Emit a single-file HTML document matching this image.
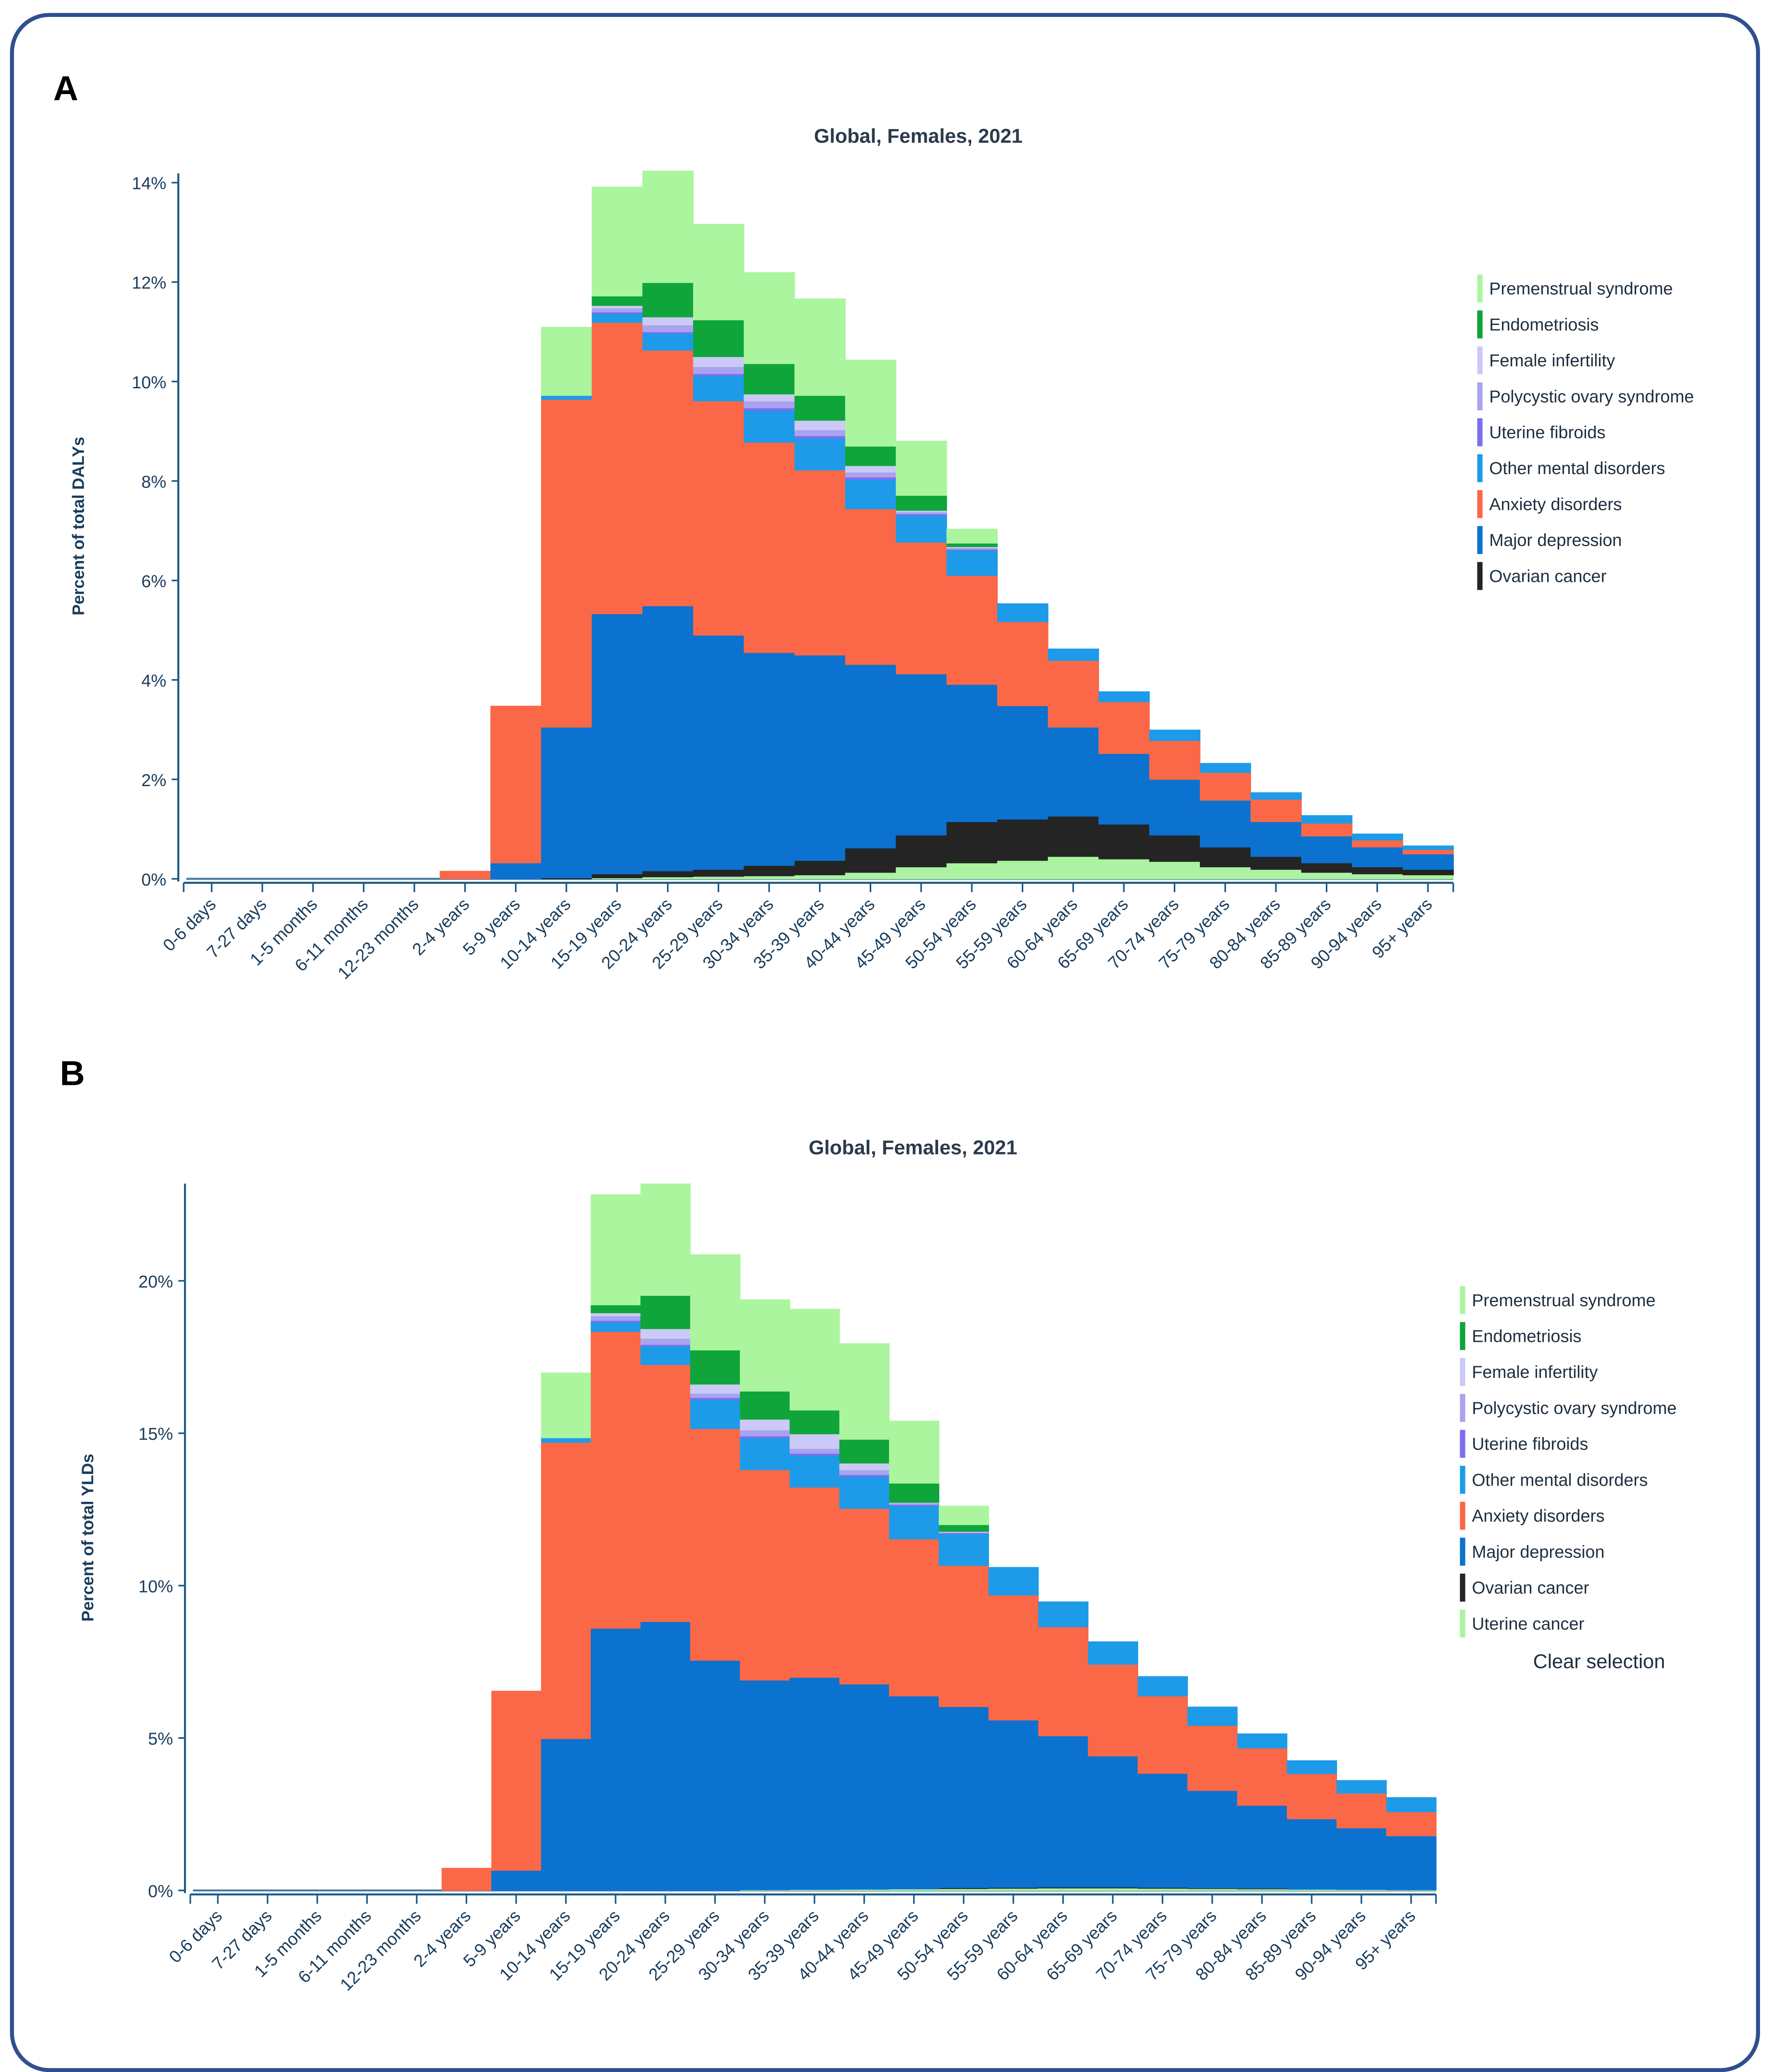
<!DOCTYPE html>
<html><head><meta charset="utf-8"><style>
html,body{margin:0;padding:0;background:#fff;width:4272px;height:5038px;overflow:hidden;}
svg{display:block;}
text{font-family:"Liberation Sans",sans-serif;}
</style></head><body>
<svg id="root" width="4272" height="5038" viewBox="0 0 1330 1568" xmlns="http://www.w3.org/2000/svg">
<rect x="9" y="11" width="1312" height="1544" rx="28" fill="#fff" stroke="#2f4f8f" stroke-width="3"/>
<text x="40" y="75" font-size="26" font-weight="bold" fill="#000">A</text>
<text x="45" y="815" font-size="26" font-weight="bold" fill="#000">B</text>
<g id="chartA"></g>
<g id="chartB"></g>
</svg>
<script>
const categories = ["0-6 days","7-27 days","1-5 months","6-11 months","12-23 months","2-4 years","5-9 years","10-14 years","15-19 years","20-24 years","25-29 years","30-34 years","35-39 years","40-44 years","45-49 years","50-54 years","55-59 years","60-64 years","65-69 years","70-74 years","75-79 years","80-84 years","85-89 years","90-94 years","95+ years"];
const seriesNames = ["Uterine cancer","Ovarian cancer","Major depression","Anxiety disorders","Other mental disorders","Uterine fibroids","Polycystic ovary syndrome","Female infertility","Endometriosis","Premenstrual syndrome"];
const seriesColors = ["#abf3a0","#242424","#0b72d0","#fb6847","#1d9be9","#7b6ff0","#a9a3f0","#cbc9f6","#0fa53a","#abf59e"];
// Chart A (DALYs %)
const aUterine    = [0,0,0,0,0,0,0,0,0.02,0.04,0.05,0.06,0.08,0.13,0.24,0.32,0.37,0.45,0.40,0.35,0.24,0.19,0.13,0.10,0.08];
const aOvarian    = [0,0,0,0,0,0,0,0.02,0.08,0.12,0.14,0.21,0.29,0.49,0.64,0.83,0.83,0.81,0.70,0.53,0.40,0.26,0.19,0.14,0.11];
const aDepression = [0,0,0,0,0,0,0.32,3.03,5.23,5.33,4.71,4.28,4.13,3.69,3.24,2.76,2.28,1.79,1.42,1.12,0.94,0.70,0.54,0.40,0.31];
const aAnxiety    = [0,0,0,0,0,0.16,3.16,6.59,5.86,5.14,4.71,4.23,3.72,3.13,2.65,2.19,1.69,1.34,1.04,0.78,0.56,0.45,0.26,0.14,0.09];
const aOther      = [0,0,0,0,0,0,0,0.08,0.18,0.34,0.51,0.64,0.64,0.59,0.54,0.51,0.37,0.24,0.21,0.22,0.19,0.14,0.16,0.13,0.08];
const aFibroids   = [0,0,0,0,0,0,0,0,0.03,0.03,0.04,0.05,0.05,0.05,0.03,0.02,0,0,0,0,0,0,0,0,0];
const aPcos       = [0,0,0,0,0,0,0,0,0.08,0.14,0.14,0.14,0.12,0.10,0.04,0.03,0,0,0,0,0,0,0,0,0];
const aInfert     = [0,0,0,0,0,0,0,0,0.05,0.16,0.20,0.14,0.19,0.13,0.03,0.02,0,0,0,0,0,0,0,0,0];
const aEndo       = [0,0,0,0,0,0,0,0,0.19,0.69,0.74,0.61,0.50,0.39,0.30,0.07,0,0,0,0,0,0,0,0,0];
const aPms        = [0,0,0,0,0,0,0,1.38,2.20,2.25,1.93,1.84,1.95,1.74,1.10,0.29,0,0,0,0,0,0,0,0,0];
const aTicks = [0,2,4,6,8,10,12,14];
// Chart B (YLDs %)
const bUterine    = [0,0,0,0,0,0,0,0,0,0,0,0.02,0.03,0.04,0.05,0.06,0.07,0.08,0.08,0.07,0.06,0.05,0.04,0.03,0.02];
const bOvarian    = [0,0,0,0,0,0,0,0,0,0,0,0,0,0,0,0.03,0.03,0.03,0.03,0.03,0.02,0.02,0,0,0];
const bDepression = [0,0,0,0,0,0,0.66,4.98,8.60,8.82,7.55,6.88,6.96,6.73,6.33,5.94,5.49,4.96,4.30,3.74,3.20,2.72,2.31,2.02,1.77];
const bAnxiety    = [0,0,0,0,0,0.74,5.89,9.72,9.74,8.43,7.60,6.90,6.24,5.76,5.15,4.63,4.10,3.58,3.01,2.54,2.13,1.88,1.48,1.14,0.79];
const bOther      = [0,0,0,0,0,0,0,0.15,0.31,0.61,0.96,1.05,1.05,1.05,1.09,1.04,0.92,0.83,0.75,0.65,0.62,0.48,0.44,0.43,0.48];
const bFibroids   = [0,0,0,0,0,0,0,0,0.05,0.05,0.06,0.06,0.06,0.06,0.04,0.03,0,0,0,0,0,0,0,0,0];
const bPcos       = [0,0,0,0,0,0,0,0,0.15,0.20,0.14,0.20,0.16,0.16,0.05,0.03,0,0,0,0,0,0,0,0,0];
const bInfert     = [0,0,0,0,0,0,0,0,0.10,0.32,0.30,0.35,0.48,0.22,0.02,0.02,0,0,0,0,0,0,0,0,0];
const bEndo       = [0,0,0,0,0,0,0,0,0.26,1.09,1.12,0.92,0.78,0.78,0.63,0.22,0,0,0,0,0,0,0,0,0];
const bPms        = [0,0,0,0,0,0,0,2.14,3.63,3.67,3.14,3.01,3.32,3.15,2.05,0.62,0,0,0,0,0,0,0,0,0];
const bTicks = [0,5,10,15,20];
const legendA = ["Premenstrual syndrome","Endometriosis","Female infertility","Polycystic ovary syndrome","Uterine fibroids","Other mental disorders","Anxiety disorders","Major depression","Ovarian cancer"];
const legendB = ["Premenstrual syndrome","Endometriosis","Female infertility","Polycystic ovary syndrome","Uterine fibroids","Other mental disorders","Anxiety disorders","Major depression","Ovarian cancer","Uterine cancer"];

const NS="http://www.w3.org/2000/svg";
function mk(tag, attrs, parent){const e=document.createElementNS(NS,tag);for(const k in attrs)e.setAttribute(k,attrs[k]);parent.appendChild(e);return e;}

function drawChart(g, cfg, series, ticks, legend){
  const n=categories.length, bw=(cfg.x1-cfg.x0)/n;
  const xOf=i=>cfg.x0+i*bw;
  const yOf=v=>cfg.y0-v*cfg.ppu;
  const title=mk('text',{x:cfg.titleX,y:cfg.titleY,'font-size':15,'font-weight':'bold','text-anchor':'middle',fill:'#2b3b4b'},g);
  title.textContent="Global, Females, 2021";
  
  
  const bl=mk('line',{x1:cfg.x0,x2:cfg.x1,y1:cfg.y0,y2:cfg.y0,stroke:'#4a7aa0','stroke-width':1.5},g);
  
  
  for(let i=0;i<n;i++){
    let cum=0;
    for(let s=0;s<series.length;s++){
      const v=series[s][i]; if(!v) continue;
      const r=mk('rect',{x:xOf(i),y:yOf(cum+v),width:bw+0.4,height:v*cfg.ppu+0.3,fill:seriesColors[s]},g);
      
      
      cum+=v;
    }
  }
  const ya=mk('line',{x1:cfg.ax,x2:cfg.ax,y1:cfg.yTop,y2:cfg.y0+2,stroke:'#1a5a86','stroke-width':1.5},g);
  
  
  ticks.forEach(t=>{
    const y=yOf(t);
    const tk=mk('line',{x1:cfg.ax-5,x2:cfg.ax,y1:y,y2:y,stroke:'#1a5a86','stroke-width':1.2},g);
    
    
    const tl=mk('text',{x:cfg.ax-9,y:y+5,'font-size':13,'text-anchor':'end',fill:'#1a3d5c'},g);
    tl.textContent=t+'%';
    
    
  });
  const yt=mk('text',{x:0,y:0,'font-size':12.5,'font-weight':'bold','text-anchor':'middle',fill:'#1a3d5c',transform:`translate(${cfg.ytx},${cfg.yty}) rotate(-90)`},g);
  yt.textContent=cfg.ytitle;
  
  
  const xa=mk('line',{x1:cfg.x0-2,x2:cfg.x1,y1:cfg.y0+3,y2:cfg.y0+3,stroke:'#1a5a86','stroke-width':1.5},g);
  
  
  [cfg.x0-2,cfg.x1].forEach(x=>{
    const e=mk('line',{x1:x,x2:x,y1:cfg.y0+3,y2:cfg.y0+10,stroke:'#1a5a86','stroke-width':1.2},g);
    
    
  });
  categories.forEach((c,i)=>{
    const cx=xOf(i)+bw/2;
    const tk=mk('line',{x1:cx,x2:cx,y1:cfg.y0+3,y2:cfg.y0+10,stroke:'#1a5a86','stroke-width':1.2},g);
    
    
    const tl=mk('text',{x:0,y:0,'font-size':13,'text-anchor':'end',fill:'#1a3d5c',transform:`translate(${cx+4},${cfg.y0+20}) rotate(-45)`},g);
    tl.textContent=c;
    
    
  });
  legend.forEach((name,k)=>{
    const s=seriesNames.indexOf(name);
    const y=cfg.ly+k*27;
    const sw=mk('rect',{x:cfg.lx,y:y-14,width:4,height:21,fill:seriesColors[s]},g);
    
    
    const lt=mk('text',{x:cfg.lx+9,y:y+1,'font-size':13,fill:'#1e2e3e'},g);
    lt.textContent=name;
    
    
  });
}
drawChart(document.getElementById('chartA'),
  {x0:140,x1:1092,y0:660,ppu:37.36,yTop:130,ax:134,titleX:690,titleY:107,ytx:63,yty:395,ytitle:"Percent of total DALYs",lx:1110,ly:220},
  [aUterine,aOvarian,aDepression,aAnxiety,aOther,aFibroids,aPcos,aInfert,aEndo,aPms],aTicks,legendA);
drawChart(document.getElementById('chartB'),
  {x0:145,x1:1079,y0:1420,ppu:22.9,yTop:889,ax:139,titleX:686,titleY:867,ytx:70,yty:1155,ytitle:"Percent of total YLDs",lx:1097,ly:980},
  [bUterine,bOvarian,bDepression,bAnxiety,bOther,bFibroids,bPcos,bInfert,bEndo,bPms],bTicks,legendB);
const cs=mk('text',{x:1152,y:1253,'font-size':15,fill:'#1e2e3e'},document.getElementById('chartB'));
cs.textContent="Clear selection";


</script>
</body></html>
